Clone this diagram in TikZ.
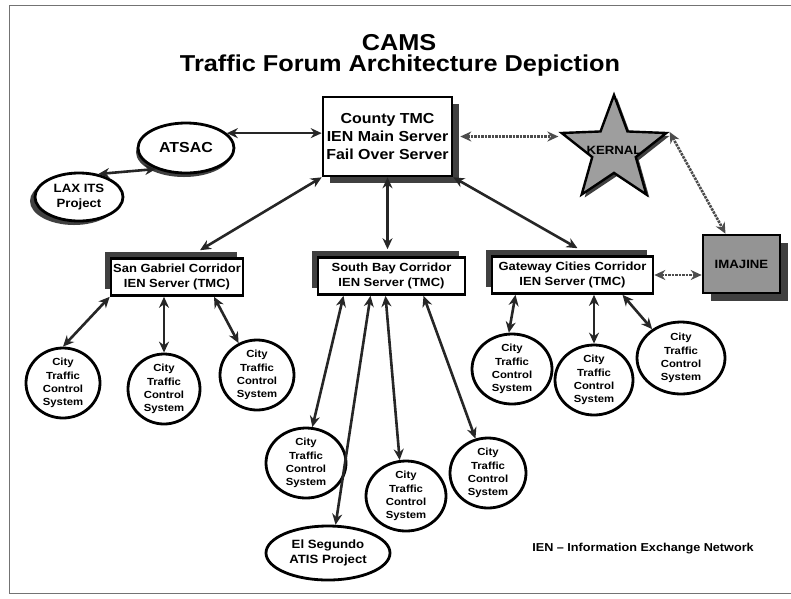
\documentclass[tikz,border=0pt]{standalone}
\usepackage{fontspec}
\setmainfont[FakeStretch=1.1]{Liberation Sans}
\usetikzlibrary{shapes.geometric,shadows,arrows.meta,calc}
\begin{document}
\begin{tikzpicture}[x=1pt,y=-1pt,
  font=\bfseries,
  bi/.style={{Stealth[length=11pt,width=10pt]}-{Stealth[length=11pt,width=10pt]}, line width=2.6pt, black!85},
  dotbi/.style={bi, dash pattern=on 2.5pt off 1pt, black!70},
  shad/.style={drop shadow={#1, fill=black!75, opacity=1}},
  city/.style={ellipse, draw, line width=2.8pt, fill=white, inner sep=0pt, align=center,
    font=\bfseries\fontsize{10.3}{13.3}\selectfont},
  corridor/.style={rectangle, draw, line width=2.6pt, fill=white, inner sep=0pt, align=center,
    minimum height=37pt, font=\bfseries\fontsize{11.8}{15}\selectfont,
    shad={shadow xshift=-6pt, shadow yshift=7pt}},
  oval/.style={ellipse, draw, line width=2.8pt, fill=white, inner sep=0pt, align=center},
]
\useasboundingbox (0,0) rectangle (791,598);
\draw[black!55, line width=1pt] (791,5) -- (9,5) -- (9,593) -- (791,593);

% title
\node[font=\bfseries\fontsize{23}{27}\selectfont] (cams) at (399,43) {CAMS};
\node[font=\bfseries\fontsize{23}{27}\selectfont] (title) at (400,66) {Traffic Forum Architecture Depiction};

% top level
\node[rectangle, draw, line width=2.6pt, fill=white, minimum width=129pt, minimum height=79pt,
  inner sep=0pt, align=center, font=\bfseries\fontsize{14.5}{18}\selectfont,
  shad={shadow xshift=7pt, shadow yshift=-7pt}] (tmc) at (387.5,136.5)
  {County TMC\\IEN Main Server\\Fail Over Server};
\node[oval, minimum width=96pt, minimum height=50pt, font=\bfseries\fontsize{14.5}{16}\selectfont,
  shad={shadow xshift=-2pt, shadow yshift=-4pt}] (atsac) at (186,148) {ATSAC};
\node[oval, minimum width=88pt, minimum height=48pt, font=\bfseries\fontsize{12}{15}\selectfont,
  shad={shadow xshift=-5pt, shadow yshift=-4pt}] (lax) at (79,197) {LAX ITS\\Project};
\node[star, star points=5, star point ratio=2.4, minimum size=110pt, inner sep=0pt, draw,
  line width=2.4pt, fill=black!38, shad={shadow xshift=3pt, shadow yshift=-3pt},
  label={[name=kernallabel, font=\bfseries\fontsize{12}{14}\selectfont]center:KERNAL}] (kernal) at (614,150) {};
\node[rectangle, draw, line width=2.6pt, fill=black!42, minimum width=77pt, minimum height=58pt,
  inner sep=0pt, font=\bfseries\fontsize{12}{14}\selectfont,
  shad={shadow xshift=8pt, shadow yshift=-8pt}] (imj) at (741.5,264) {IMAJINE};

% corridors
\node[corridor, minimum width=132pt] (sg) at (177,277) {San Gabriel Corridor\\IEN Server (TMC)};
\node[corridor, minimum width=147pt] (sb) at (391.5,276) {South Bay Corridor\\IEN Server (TMC)};
\node[corridor, minimum width=161pt] (gw) at (572.5,275) {Gateway Cities Corridor\\IEN Server (TMC)};

% city systems
\node[city, minimum width=74pt, minimum height=68pt] (c1) at (63,383) {City\\Traffic\\Control\\System};
\node[city, minimum width=72pt, minimum height=70pt] (c2) at (164,389) {City\\Traffic\\Control\\System};
\node[city, minimum width=74pt, minimum height=66pt] (c3) at (257,375) {City\\Traffic\\Control\\System};
\node[city, minimum width=80pt, minimum height=70pt] (c4) at (306,463) {City\\Traffic\\Control\\System};
\node[city, minimum width=80pt, minimum height=64pt] (c5) at (406,496) {City\\Traffic\\Control\\System};
\node[city, minimum width=76pt, minimum height=66pt] (c6) at (488,473) {City\\Traffic\\Control\\System};
\node[city, minimum width=80pt, minimum height=68pt] (c7) at (512,369) {City\\Traffic\\Control\\System};
\node[city, minimum width=78pt, minimum height=66pt] (c8) at (594,380) {City\\Traffic\\Control\\System};
\node[city, minimum width=88pt, minimum height=72pt] (c9) at (681,358) {City\\Traffic\\Control\\System};
\node[oval, minimum width=124pt, minimum height=54pt, font=\bfseries\fontsize{12}{15}\selectfont] (elseg) at (328,553) {El Segundo\\ATIS Project};

\node[font=\bfseries\fontsize{11.5}{14}\selectfont] (legend) at (643,549) {IEN – Information Exchange Network};

% connectors
\draw[bi] (atsac.20) -- (tmc.west |- atsac.20);
\draw[bi] (atsac.215) -- (lax.50);
\draw[dotbi] ([xshift=7pt]tmc.east) -- (kernal.outer point 2 |- tmc.east);
\draw[dotbi] (kernal.outer point 5) -- ([xshift=-16pt]imj.north);
\draw[dotbi] (gw.east) -- (imj.west |- gw.east);
\draw[bi] (tmc.south west) -- ([xshift=23pt,yshift=7pt]sg.north);
\draw[bi] (tmc.south) -- ([yshift=7pt]tmc.south |- sb.north);
\draw[bi] (tmc.south east) -- ([xshift=5pt,yshift=7pt]gw.north);
\draw[bi] (sg.south west) -- (c1.north);
\draw[bi] (c2.north |- sg.south) -- (c2.north);
\draw[bi] ([xshift=37pt]sg.south) -- (c3.120);
\draw[bi] ([xshift=-48pt]sb.south) -- (c4.80);
\draw[bi] ([xshift=-21pt]sb.south) -- (elseg.75);
\draw[bi] ([xshift=-6pt]sb.south) -- (c5.100);
\draw[bi] ([xshift=32pt]sb.south) -- (c6.110);
\draw[bi] ([xshift=-57pt]gw.south) -- (c7.95);
\draw[bi] (c8.north |- gw.south) -- (c8.north);
\draw[bi] ([xshift=50pt]gw.south) -- (c9.135);
\end{tikzpicture}
\end{document}
